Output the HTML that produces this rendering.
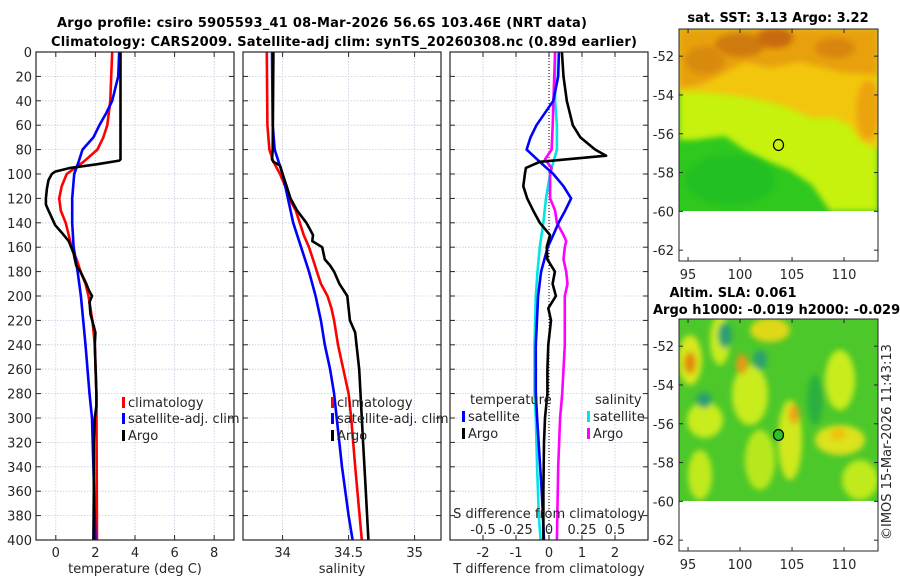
<!DOCTYPE html>
<html><head><meta charset="utf-8"><style>
html,body{margin:0;padding:0;background:#fff;}
svg{display:block;font-family:"DejaVu Sans","Liberation Sans",sans-serif;}
.t{font-size:13px;fill:#262626;}
.b{font-weight:bold;font-size:13px;fill:#000;}
</style></head><body>
<svg id="c" width="900" height="580" viewBox="0 0 900 580">
<defs>
<filter id="bl" x="-20%" y="-20%" width="140%" height="140%"><feGaussianBlur stdDeviation="3"/></filter>
<clipPath id="m1c"><rect x="679" y="29" width="199" height="182"/></clipPath>
<clipPath id="m2c"><rect x="679" y="319" width="199" height="182"/></clipPath>
</defs>
<text class="b" x="57" y="27" textLength="530">Argo profile: csiro 5905593_41 08-Mar-2026 56.6S 103.46E (NRT data)</text>
<text class="b" x="51" y="46" textLength="586">Climatology: CARS2009. Satellite-adj clim: synTS_20260308.nc (0.89d earlier)</text>
<g id="panels"></g>

<g>
<text class="b" x="778" y="22" text-anchor="middle">sat. SST: 3.13 Argo: 3.22</text>
<g clip-path="url(#m1c)">
<rect x="679" y="29" width="199" height="182" fill="#2fc81e"/>
<polygon points="679,29 878,29 878,211 830,211 812,185 790,170 765,160 745,150 725,136 708,138 695,140 679,140" fill="#c6f20a" filter="url(#bl)"/>
<polygon points="679,29 878,29 878,150 860,140 850,125 835,118 810,118 790,108 760,100 730,95 700,92 679,92" fill="#f2c60c" filter="url(#bl)"/>
<polygon points="679,29 878,29 878,75 840,72 800,62 770,68 745,62 720,75 700,85 679,88" fill="#e8a010" filter="url(#bl)"/>
<ellipse cx="740" cy="45" rx="25" ry="12" fill="#cf7a10" filter="url(#bl)"/>
<ellipse cx="775" cy="38" rx="18" ry="10" fill="#c86a0c" filter="url(#bl)"/>
<ellipse cx="835" cy="48" rx="20" ry="10" fill="#d8860e" filter="url(#bl)"/>
<ellipse cx="705" cy="60" rx="20" ry="14" fill="#d88a10" filter="url(#bl)"/>
<ellipse cx="868" cy="110" rx="12" ry="30" fill="#eca40e" filter="url(#bl)"/>
<ellipse cx="730" cy="180" rx="45" ry="25" fill="#20c020" filter="url(#bl)"/>
</g>
<rect x="679" y="29" width="199" height="232" fill="none" stroke="#262626" stroke-width="1"/>
<ellipse cx="778.5" cy="145" rx="5" ry="5.5" fill="none" stroke="#000" stroke-width="1.2"/>
<g id="m1ax"></g>
</g>

<g>
<text class="b" x="733" y="297" text-anchor="middle">Altim. SLA: 0.061</text>
<text class="b" x="653" y="314">Argo h1000: -0.019 h2000: -0.029</text>
<g clip-path="url(#m2c)">
<rect x="679" y="319" width="199" height="182" fill="#4cc82a"/>
<g filter="url(#bl)">
<ellipse cx="690" cy="360" rx="12" ry="25" fill="#d8e81a"/>
<ellipse cx="720" cy="340" rx="10" ry="25" fill="#c8ec1a"/>
<ellipse cx="770" cy="330" rx="20" ry="12" fill="#e0d818"/>
<ellipse cx="750" cy="395" rx="18" ry="30" fill="#c8ec1a"/>
<ellipse cx="790" cy="440" rx="12" ry="40" fill="#d0e81a"/>
<ellipse cx="760" cy="460" rx="15" ry="30" fill="#b8e81a"/>
<ellipse cx="705" cy="420" rx="18" ry="18" fill="#c8ec1a"/>
<ellipse cx="840" cy="380" rx="15" ry="30" fill="#c8ec1a"/>
<ellipse cx="840" cy="440" rx="25" ry="15" fill="#dce21a"/>
<ellipse cx="860" cy="480" rx="18" ry="20" fill="#c0ea1a"/>
<ellipse cx="700" cy="475" rx="12" ry="25" fill="#c0ea1a"/>
<ellipse cx="690" cy="363" rx="6" ry="11" fill="#e08a10"/>
<ellipse cx="742" cy="364" rx="6" ry="10" fill="#e49a12"/>
<ellipse cx="794" cy="414" rx="5" ry="10" fill="#f0a014"/>
<ellipse cx="838" cy="434" rx="8" ry="6" fill="#f0c010"/>
<ellipse cx="725" cy="335" rx="7" ry="13" fill="#2aa070"/>
<ellipse cx="760" cy="360" rx="7" ry="10" fill="#2aa070"/>
<ellipse cx="704" cy="400" rx="8" ry="8" fill="#2aa070"/>
<ellipse cx="815" cy="400" rx="8" ry="25" fill="#2ab040"/>
</g>
</g>
<rect x="679" y="319" width="199" height="232" fill="none" stroke="#262626" stroke-width="1"/>
<ellipse cx="778.5" cy="435" rx="5" ry="5.5" fill="#2fc02a" stroke="#000" stroke-width="1.2"/>
<g id="m2ax"></g>
</g>
<text class="t" transform="translate(891,540) rotate(-90)" font-size="13">©IMOS 15-Mar-2026 11:43:13</text>
</svg>
<script>
const depthTClim=[0,20,40,60,70,80,90,100,110,120,130,140,150,160,170,180,190,200,220,240,280,320,400];
const tClim=[2.85,2.8,2.75,2.6,2.4,2.1,1.4,0.55,0.3,0.17,0.25,0.5,0.65,0.8,1.05,1.25,1.5,1.65,1.85,1.97,2.05,2.06,2.08];
const depthTSat=[0,20,30,40,50,60,70,80,90,100,120,140,160,180,200,240,280,300,340,400];
const tSat=[3.2,3.15,3.0,2.85,2.55,2.2,1.9,1.35,1.15,0.93,0.83,0.83,0.9,1.1,1.27,1.5,1.7,1.83,1.9,2.0];
const depthTArgo=[0,88,89,92,95,98,100,105,112,120,125,130,137,142,148,155,160,165,175,180,190,195,200,205,215,225,230,240,280,290,300,320,360,400];
const tArgo=[3.27,3.27,3.2,2.1,0.73,-0.03,-0.2,-0.37,-0.45,-0.5,-0.5,-0.37,-0.17,-0.03,0.3,0.65,0.78,0.9,1.03,1.24,1.54,1.66,1.83,1.7,1.75,1.92,2.0,1.97,2.05,2.05,1.97,1.92,1.92,1.9];
const depthSClim=[0,60,80,90,100,110,120,130,140,150,160,170,180,190,200,210,220,240,260,280,300,340,400];
const sClim=[33.88,33.885,33.9,33.93,33.98,34.02,34.05,34.1,34.13,34.16,34.2,34.23,34.26,34.29,34.34,34.37,34.39,34.42,34.46,34.5,34.52,34.55,34.6];
const depthSSat=[0,60,80,90,100,120,140,160,180,200,220,240,260,280,300,340,380,400];
const sSat=[33.92,33.925,33.94,33.97,34.0,34.04,34.08,34.14,34.2,34.25,34.29,34.32,34.36,34.39,34.41,34.45,34.5,34.53];
const depthSArgo=[0,80,88,90,93,100,110,120,130,140,150,155,160,170,175,180,190,200,220,230,240,260,280,320,360,400];
const sArgo=[33.93,33.925,33.92,33.93,33.98,34.0,34.03,34.06,34.11,34.18,34.23,34.225,34.3,34.32,34.36,34.39,34.43,34.49,34.51,34.55,34.56,34.58,34.59,34.61,34.63,34.65];
const depthDTSat=[0,20,40,60,70,80,90,100,110,120,130,140,150,160,180,200,240,280,300,360,400];
const dTSat=[0.3,0.28,0.13,-0.38,-0.56,-0.68,-0.28,0.13,0.44,0.67,0.49,0.29,0.13,-0.04,-0.24,-0.33,-0.4,-0.4,-0.36,-0.22,-0.15];
const depthDTArgo=[0,20,40,60,70,80,85,90,95,100,110,120,130,140,150,160,170,180,190,200,210,220,240,260,280,300,320,360,400];
const dTArgo=[0.39,0.44,0.54,0.72,0.95,1.4,1.73,-0.28,-0.7,-0.73,-0.78,-0.66,-0.48,-0.28,0.03,-0.07,-0.05,0.18,0.11,0.21,-0.02,0.06,-0.02,-0.05,-0.05,-0.12,-0.15,-0.17,-0.17];
const depthDSSat=[0,40,60,80,90,100,120,140,160,180,200,240,280,300,340,380,400];
const dSSat=[0.046,0.046,0.06,0.06,0.033,0.008,-0.023,-0.043,-0.07,-0.087,-0.1,-0.11,-0.11,-0.1,-0.09,-0.077,-0.064];
const depthDSArgo=[0,40,60,80,88,95,100,120,130,140,150,155,160,170,180,190,200,220,240,260,280,300,340,400];
const dSArgo=[0.046,0.033,0.028,0.02,-0.03,0.02,0.008,0.008,0.046,0.06,0.11,0.13,0.12,0.11,0.13,0.14,0.12,0.12,0.12,0.11,0.1,0.084,0.07,0.06];
const depthTicks=[0,20,40,60,80,100,120,140,160,180,200,220,240,260,280,300,320,340,360,380,400];
const tTicks=[0,2,4,6,8];
const sTicks=[34,34.5,35];
const dtTicks=[-2,-1,0,1,2];
const dsTicks=[-0.5,-0.25,0,0.25,0.5];
const latTicks=[-52,-54,-56,-58,-60,-62];
const lonTicks=[95,100,105,110];

const NS='http://www.w3.org/2000/svg';
const root=document.getElementById('panels');
function mk(tag,attrs,parent){const e=document.createElementNS(NS,tag);for(const k in attrs)e.setAttribute(k,attrs[k]);(parent||root).appendChild(e);return e;}
const Y0=52,Y1=540;
const yD=d=>Y0+(d/400)*(Y1-Y0);
function lin(d0,d1,r0,r1){return v=>r0+(v-d0)/(d1-d0)*(r1-r0);}
const panels=[
 {x0:36,x1:234,name:'temperature-panel'},
 {x0:243,x1:441,name:'salinity-panel'},
 {x0:450,x1:648,name:'difference-panel'}];
const xT=lin(-1,9,36,234), xS=lin(33.7,35.2,243,441), xDT=lin(-3,3,450,648), xDS=lin(-0.75,0.75,450,648);

panels.forEach((p,i)=>{
  const g=mk('g',{});
  
  
  let vt = i==0?tTicks.map(xT): i==1?sTicks.map(xS): dtTicks.map(xDT);
  vt.forEach(x=>{const l=mk('line',{x1:x,x2:x,y1:Y0,y2:Y1,stroke:'#c4cce0','stroke-width':0.8,'stroke-dasharray':'1.5,1.5'},g);});
  depthTicks.forEach(d=>{
    const y=yD(d);
    const l=mk('line',{x1:p.x0,x2:p.x1,y1:y,y2:y,stroke:'#c4cce0','stroke-width':0.8,'stroke-dasharray':'1.5,1.5'},g);
    
    mk('line',{x1:p.x0,x2:p.x0+5,y1:y,y2:y,stroke:'#262626','stroke-width':1},g);
    mk('line',{x1:p.x1-5,x2:p.x1,y1:y,y2:y,stroke:'#262626','stroke-width':1},g);
    if(i==0){const t=mk('text',{x:p.x0-4,y:y+5,'text-anchor':'end',class:'t'},g);t.textContent=d;
      }
  });
  vt.forEach(x=>{mk('line',{x1:x,x2:x,y1:Y1,y2:Y1-5,stroke:'#262626'},g);mk('line',{x1:x,x2:x,y1:Y0,y2:Y0+5,stroke:'#262626'},g);});
});
function xlabels(ticks,fx){ticks.forEach(v=>{const t=mk('text',{x:fx(v),y:557,'text-anchor':'middle',class:'t'});t.textContent=v;
  });}
xlabels(tTicks,xT);xlabels(sTicks,xS);xlabels(dtTicks,xDT);
function axTitle(x,txt,name){const t=mk('text',{x:x,y:573,'text-anchor':'middle',class:'t','font-size':'14'});t.textContent=txt;
  }
axTitle(135,'temperature (deg C)','temperature-axis-title');axTitle(342,'salinity','salinity-axis-title');axTitle(549,'T difference from climatology','t-diff-axis-title');
const zl=mk('line',{x1:xDT(0),x2:xDT(0),y1:Y0,y2:Y1,stroke:'#000','stroke-width':1,'stroke-dasharray':'1,2'});


function series(ds,vs,fx,color,name){
  const pts=ds.map((d,k)=>fx(vs[k]).toFixed(1)+','+yD(d).toFixed(1)).join(' ');
  const pl=mk('polyline',{points:pts,fill:'none',stroke:color,'stroke-width':2.6,'stroke-linejoin':'round'});
  
}
series(depthTClim,tClim,xT,'#ff0000','temp-climatology-line');
series(depthTSat,tSat,xT,'#0000ff','temp-satellite-line');
series(depthTArgo,tArgo,xT,'#000000','temp-argo-line');
series(depthSClim,sClim,xS,'#ff0000','sal-climatology-line');
series(depthSSat,sSat,xS,'#0000ff','sal-satellite-line');
series(depthSArgo,sArgo,xS,'#000000','sal-argo-line');
series(depthDSSat,dSSat,xDS,'#00e5e5','sdiff-satellite-line');
series(depthDSArgo,dSArgo,xDS,'#ff00ff','sdiff-argo-line');
series(depthDTSat,dTSat,xDT,'#0000ff','tdiff-satellite-line');
series(depthDTArgo,dTArgo,xDT,'#000000','tdiff-argo-line');

const st=mk('text',{x:549,y:518,'text-anchor':'middle',class:'t','font-size':'14'});st.textContent='S difference from climatology';

dsTicks.forEach(v=>{const t=mk('text',{x:xDS(v),y:534,'text-anchor':'middle',class:'t'});t.textContent=v;
  });

function legend(x,y,color,txt,name){
  const g=mk('g',{});
  mk('rect',{x:x,y:y-10,width:3,height:11,fill:color},g);
  const t=mk('text',{x:x+6,y:y,class:'t','font-size':'14'},g);t.textContent=txt;
}
legend(122,407,'#ff0000','climatology','legend-temp-climatology');
legend(122,423,'#0000ff','satellite-adj. clim','legend-temp-satellite');
legend(122,440,'#000000','Argo','legend-temp-argo');
legend(331,407,'#ff0000','climatology','legend-sal-climatology');
legend(331,423,'#0000ff','satellite-adj. clim','legend-sal-satellite');
legend(331,440,'#000000','Argo','legend-sal-argo');
const lt=mk('text',{x:470,y:404,class:'t','font-size':'14'});lt.textContent='temperature';
const ls=mk('text',{x:595,y:404,class:'t','font-size':'14'});ls.textContent='salinity';
legend(462,421,'#0000ff','satellite','legend-tdiff-satellite');
legend(462,438,'#000000','Argo','legend-tdiff-argo');
legend(587,421,'#00e5e5','satellite','legend-sdiff-satellite');
legend(587,438,'#ff00ff','Argo','legend-sdiff-argo');
panels.forEach(p=>{mk('rect',{x:p.x0,y:Y0,width:p.x1-p.x0,height:Y1-Y0,fill:'none',stroke:'#262626','stroke-width':1.2});});

function mapAxes(gid,top){
  const g=document.getElementById(gid);
  const yL=lat=>top+ (-50.6-lat)*19.4, xL=lon=>679+(lon-94.13)*10.4;
  latTicks.forEach(v=>{const y=yL(v);mk('line',{x1:679,x2:683,y1:y,y2:y,stroke:'#262626'},g);mk('line',{x1:874,x2:878,y1:y,y2:y,stroke:'#262626'},g);
    const t=mk('text',{x:674,y:y+5,'text-anchor':'end',class:'t'},g);t.textContent=v;
    });
  lonTicks.forEach(v=>{const x=xL(v);mk('line',{x1:x,x2:x,y1:top+232,y2:top+228,stroke:'#262626'},g);mk('line',{x1:x,x2:x,y1:top,y2:top+4,stroke:'#262626'},g);
    const t=mk('text',{x:x,y:top+250,'text-anchor':'middle',class:'t'},g);t.textContent=v;
    });
}
mapAxes('m1ax',29);mapAxes('m2ax',319);
</script>
</body></html>
